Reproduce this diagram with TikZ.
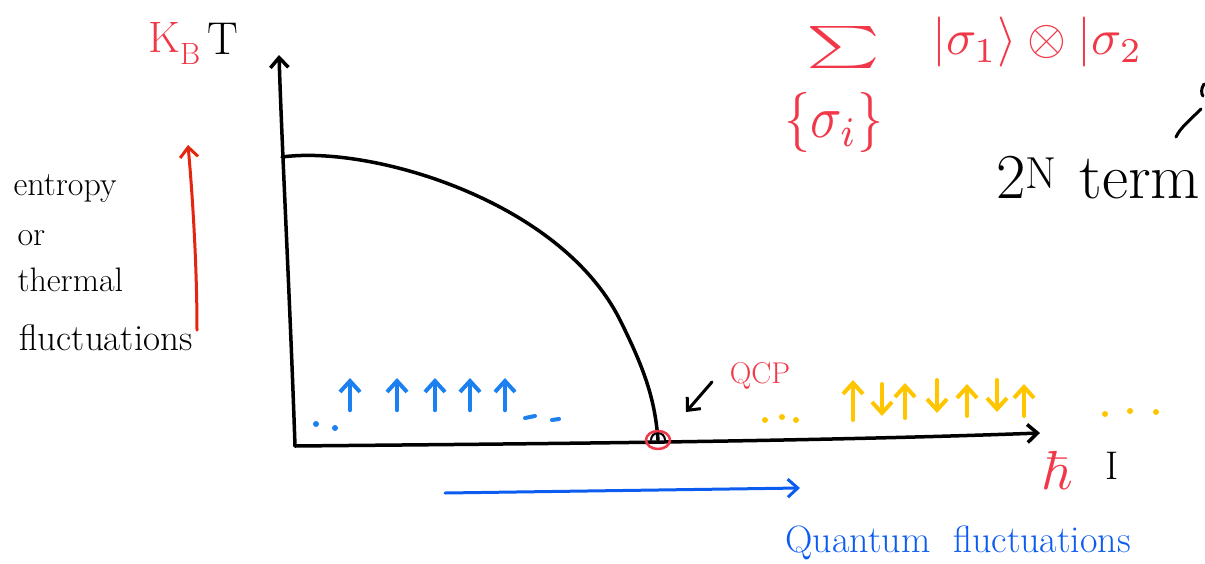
\documentclass[tikz,border=0pt]{standalone}
\usepackage{amssymb,amsmath}
\usepackage{tikz}
\usetikzlibrary{arrows.meta,calc}
\definecolor{inkred}{RGB}{240,56,72}
\definecolor{inkblue}{RGB}{28,128,240}
\definecolor{deepblue}{RGB}{12,92,240}
\definecolor{inkyellow}{RGB}{255,198,0}
\definecolor{arrowred}{RGB}{226,38,16}
\tikzset{
	ink/.style={line width=3.5pt, line cap=round, line join=round},
	spin/.style={ink, line width=4.5pt, -{Straight Barb[length=11pt,width=20pt,line width=4pt]}},
	hand/.style={font=\fontsize{34}{40}\selectfont},
}

\begin{document}
\begin{tikzpicture}[x=1pt, y=-1pt, >={Straight Barb[length=10pt,width=18pt]}]
		\useasboundingbox (0,0) rectangle (1205,563);
		\clip (0,0) rectangle (1205,563);
		\coordinate (O) at (295,446);
		\coordinate (Ttop) at (279,55);
		\coordinate (Xend) at (1040,433);
		\coordinate (Tc) at (282,157);
		\coordinate (Qc) at (658,440);
		% axes
		\draw[ink, ->] (O) .. controls (290,300) and (282,150) .. (Ttop);
		\draw[ink, ->] (O) .. controls (500,444) and (800,442) .. (Xend);
		\node[inkred, hand, font=\fontsize{44}{44}\selectfont, anchor=base east, inner sep=1pt] (kB) at (202,52) {K\textsubscript{B}};
		\node[hand, font=\fontsize{46}{46}\selectfont, anchor=base west, inner sep=1pt] (T) at (206,54) {T};
		\node[inkred] (hbar) at (1056,471) {\scalebox{5.5}{$\hbar$}};
		\node[hand, font=\fontsize{40}{40}\selectfont] (J) at (1112,466) {I};
		% phase boundary
		\draw[ink] (Tc) .. controls (370,145) and (560,200) .. (620,320) .. controls (645,370) and (655,400) .. (Qc);
		\draw[ink, line width=2pt] (Qc) ++(-7,0) arc[start angle=180, end angle=360, radius=7];
		\draw[inkred, ink, line width=2.5pt] (Qc) ellipse (12 and 9);
		\node[inkred, hand, font=\fontsize{30}{30}\selectfont] (qcp) at (760,376) {QCP};
		\coordinate (qcpTail) at (712,382);
		\coordinate (qcpTip) at (686,412);
		\draw[ink, line width=3pt, ->] (qcpTail) -- (qcpTip);
		% ordered spins
		\foreach \x in {350,397,435,470,505}
			\draw[spin, inkblue] (\x,410) -- (\x,378);
		\fill[inkblue] (316,424) circle (3) (335,428) circle (3);
		\draw[ink, inkblue, line width=4pt] (525,418) -- (535,416) (552,420) -- (559,419);
		% disordered spins
		\foreach \x/\a/\b in {853/420/380, 882/384/416, 905/418/383, 937/380/413, 967/416/384, 997/380/412, 1024/416/384}
			\draw[spin, inkyellow, line width=4pt] (\x,\a) -- (\x,\b);
		\foreach \x/\y in {765/420, 782/417, 796/420, 1105/414, 1130/411, 1156/412}
			\fill[inkyellow] (\x,\y) circle (3);
		% thermal side
		\coordinate (redBot) at (197,330);
		\coordinate (redTop) at (188,145);
		\draw[ink, arrowred, line width=3pt, ->] (redBot) .. controls (197,270) and (193,200) .. (redTop);
		\node[hand, anchor=west] (ent) at (10,188) {entropy};
		\node[hand, anchor=west] (or) at (14,238) {or};
		\node[hand, anchor=west] (therm) at (14,280) {thermal};
		\node[hand, anchor=west, font=\fontsize{37}{40}\selectfont] (fluct) at (16,338) {fluctuations};
		% quantum side
		\coordinate (bStart) at (445,493);
		\coordinate (bEnd) at (800,488);
		\draw[ink, deepblue, line width=3pt, ->] (bStart) -- (bEnd);
		\node[deepblue, hand, anchor=west, font=\fontsize{38}{40}\selectfont] (qf) at (782,543) {Quantum\hspace{0.6em}fluctuations};
		% basis sum
		\node[inkred, inner sep=0pt] (sum) at (843,47) {\scalebox{7}[4.2]{$\sum$}};
		\node[inkred] (set) at (834,122) {\scalebox{5.2}[6]{$\{\sigma_i\}$}};
		\node[inkred, anchor=west, inner sep=0pt] (ket) at (932,42) {\scalebox{5}{$|\sigma_1\rangle \otimes |\sigma_2$}};
		\node[font=\fontsize{64}{64}\selectfont, anchor=base west, inner sep=0pt] (terms) at (996,198) {2\textsuperscript{N}\hspace{0.35em}term};
		\draw[ink, line width=3pt] (1176,137) .. controls (1180,128) and (1190,120) .. (1201,109);
		\draw[ink, line width=3pt] (1204,84) .. controls (1201,88) and (1201,94) .. (1203,96);
	\end{tikzpicture}
\end{document}
